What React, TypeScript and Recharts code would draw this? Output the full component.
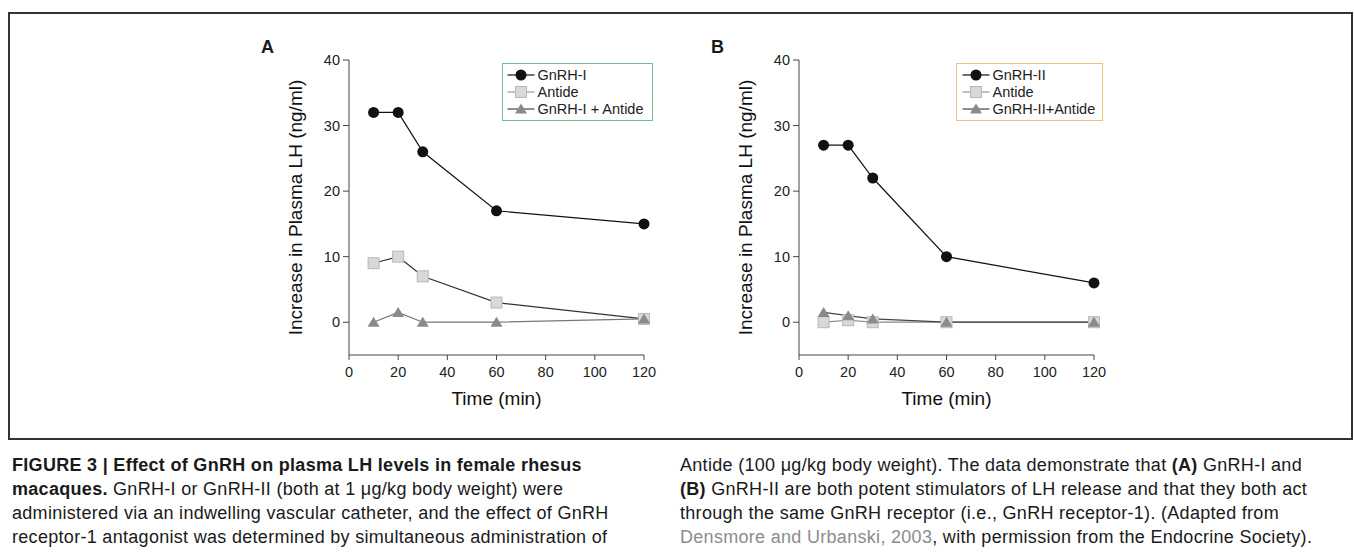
import { LineChart, Line, XAxis, YAxis, Legend } from 'recharts';

const FONT = "'Liberation Sans', Arial, Helvetica, sans-serif";

const times = [10, 20, 30, 60, 120];
const gnrhI = [32, 32, 26, 17, 15];
const antideA = [9, 10, 7, 3, 0.5];
const gnrhIAntide = [0, 1.5, 0, 0, 0.5];
const gnrhII = [27, 27, 22, 10, 6];
const antideB = [0, 0.3, 0, 0, 0];
const gnrhIIAntide = [1.5, 1, 0.5, 0, 0];
const xTicks = [0, 20, 40, 60, 80, 100, 120];
const yTicks = [0, 10, 20, 30, 40];
const namesA = ['GnRH-I', 'Antide', 'GnRH-I + Antide'];
const namesB = ['GnRH-II', 'Antide', 'GnRH-II+Antide'];

const makeRows = (a: number[], b: number[], c: number[]) =>
  times.map((t, i) => ({ t, hormone: a[i], antide: b[i], combo: c[i] }));

type Shape = 'circle' | 'square' | 'triangle';
const shapes: Shape[] = ['circle', 'square', 'triangle'];

function Marker({ shape, cx, cy }: { shape: Shape; cx: number; cy: number }) {
  if (shape === 'circle') return <circle cx={cx} cy={cy} r={5.5} fill="#111" />;
  if (shape === 'square')
    return <rect x={cx - 5.5} y={cy - 5.5} width={11} height={11} fill="#d8d8d8" stroke="#b8b8b8" strokeWidth={1} />;
  return <polygon points={`${cx},${cy - 5.5} ${cx + 6},${cy + 4.5} ${cx - 6},${cy + 4.5}`} fill="#8a8a8a" />;
}

const dotFor = (shape: Shape) => (p: any) =>
  <Marker key={`${shape}-${p.index}`} shape={shape} cx={p.cx} cy={p.cy} />;

function LegendBox({ names, border, lineStart }: { names: string[]; border: string; lineStart: number }) {
  const legendStrokes = ['#111', '#999', '#444'];
  return (
    <div style={{
      border: `1.5px solid ${border}`, background: '#fff', boxSizing: 'border-box',
      width: '100%', height: '100%', paddingTop: 3, fontFamily: FONT,
    }}>
      {names.map((n, i) => (
        <div key={n} style={{ display: 'flex', alignItems: 'center', height: 16.7 }}>
          <svg width={lineStart + 30} height={16} style={{ flex: 'none' }}>
            <line x1={lineStart} x2={lineStart + 27} y1={8} y2={8} stroke={legendStrokes[i]} strokeWidth={1.2} />
            <Marker shape={shapes[i]} cx={lineStart + 13.5} cy={8} />
          </svg>
          <span style={{ fontSize: 14.5, color: '#222', whiteSpace: 'nowrap' }}>{n}</span>
        </div>
      ))}
    </div>
  );
}

interface PanelProps {
  left: number;
  rows: { t: number; hormone: number; antide: number; combo: number }[];
  names: string[];
  border: string;
  legendLeft: number;
  legendWidth: number;
  lineStart: number;
  antideStroke: string;
  comboStroke: string;
}

function Panel({ left, rows, names, border, legendLeft, legendWidth, lineStart, antideStroke, comboStroke }: PanelProps) {
  return (
    <div style={{ position: 'absolute', left, top: 40, fontFamily: FONT }}>
      <LineChart width={440} height={380} data={rows} margin={{ top: 20, right: 26, bottom: 10, left: 59 }}>
        <XAxis
          dataKey="t"
          type="number"
          domain={[0, 120]}
          ticks={xTicks}
          height={55}
          tickSize={5}
          tickMargin={7}
          stroke="#444"
          tick={{ fontSize: 14.5, fill: '#222' }}
          label={{ value: 'Time (min)', position: 'insideBottom', offset: 5, fontSize: 19, fill: '#111' }}
        />
        <YAxis
          type="number"
          domain={[-5, 40]}
          ticks={yTicks}
          width={60}
          tickSize={6}
          tickMargin={3}
          stroke="#444"
          tick={{ fontSize: 14.5, fill: '#222' }}
          label={{
            value: 'Increase in Plasma LH (ng/ml)', angle: -90, position: 'insideLeft', offset: 6,
            fontSize: 19, fill: '#111', style: { textAnchor: 'middle' },
          }}
        />
        <Line type="linear" dataKey="hormone" name={names[0]} stroke="#111" strokeWidth={1.2}
          dot={dotFor('circle')} activeDot={false} isAnimationActive={false} />
        <Line type="linear" dataKey="antide" name={names[1]} stroke={antideStroke} strokeWidth={1.2}
          dot={dotFor('square')} activeDot={false} isAnimationActive={false} />
        <Line type="linear" dataKey="combo" name={names[2]} stroke={comboStroke} strokeWidth={1.2}
          dot={dotFor('triangle')} activeDot={false} isAnimationActive={false} />
        <Legend
          layout="vertical"
          align="center"
          verticalAlign="middle"
          wrapperStyle={{ left: legendLeft, top: 23, width: legendWidth, height: 58 }}
          content={() => <LegendBox names={names} border={border} lineStart={lineStart} />}
        />
      </LineChart>
    </div>
  );
}

const line = (top: number, left: number, children: React.ReactNode) => (
  <div style={{ position: 'absolute', left, top, height: 24, lineHeight: '24px', whiteSpace: 'nowrap' }}>
    {children}
  </div>
);

export default function App() {
  const capTop = 453;
  const gap = 24;
  return (
    <div style={{
      position: 'absolute', left: 0, top: 0, width: 1354, height: 559, overflow: 'hidden',
      background: '#fff', fontFamily: FONT, color: '#1a1a1a',
    }}>
      <div style={{
        position: 'absolute', left: 8, top: 12, width: 1345, height: 428,
        border: '2px solid #333', boxSizing: 'border-box',
      }} />
      <div style={{ position: 'absolute', left: 261, top: 38, fontSize: 18, lineHeight: '18px', fontWeight: 700 }}>A</div>
      <div style={{ position: 'absolute', left: 711, top: 38, fontSize: 18, lineHeight: '18px', fontWeight: 700 }}>B</div>

      <Panel left={230} rows={makeRows(gnrhI, antideA, gnrhIAntide)} names={namesA} border="#6cbf8f"
        legendLeft={272} legendWidth={151} lineStart={4.5} antideStroke="#333" comboStroke="#777" />
      <Panel left={680} rows={makeRows(gnrhII, antideB, gnrhIIAntide)} names={namesB} border="#f2c27c"
        legendLeft={276} legendWidth={147} lineStart={5.5} antideStroke="#888" comboStroke="#444" />

      <div style={{ fontSize: 18, letterSpacing: 0.3 }}>
        {line(capTop, 12, <b>FIGURE 3 | Effect of GnRH on plasma LH levels in female rhesus</b>)}
        {line(capTop + gap, 12, <><b>macaques.</b> GnRH-I or GnRH-II (both at 1 μg/kg body weight) were</>)}
        {line(capTop + gap * 2, 12, 'administered via an indwelling vascular catheter, and the effect of GnRH')}
        {line(capTop + gap * 3, 12, 'receptor-1 antagonist was determined by simultaneous administration of')}
        {line(capTop, 680, <>Antide (100 μg/kg body weight). The data demonstrate that <b>(A)</b> GnRH-I and</>)}
        {line(capTop + gap, 680, <><b>(B)</b> GnRH-II are both potent stimulators of LH release and that they both act</>)}
        {line(capTop + gap * 2, 680, 'through the same GnRH receptor (i.e., GnRH receptor-1). (Adapted from')}
        {line(capTop + gap * 3, 680, <><span style={{ color: '#8c8c8c' }}>Densmore and Urbanski, 2003</span>, with permission from the Endocrine Society).</>)}
      </div>
    </div>
  );
}
